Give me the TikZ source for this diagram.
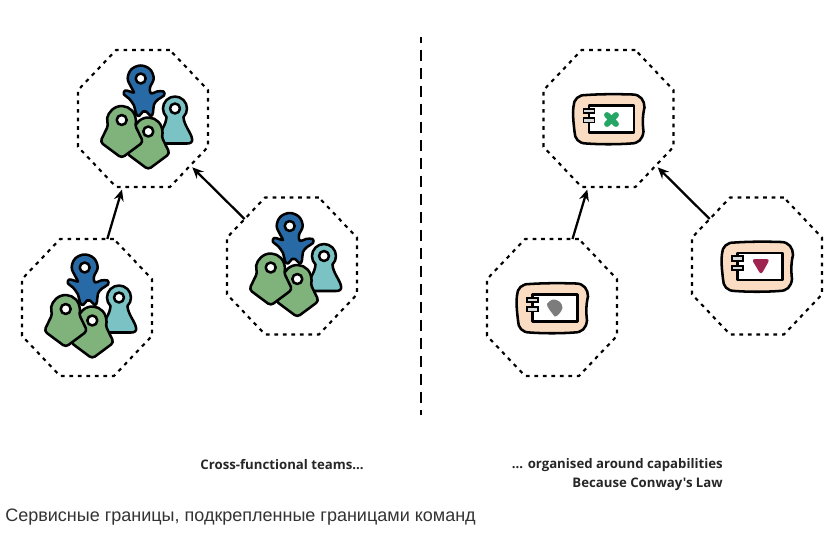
\documentclass[tikz,border=0pt]{standalone}
\usepackage{fontspec}
\newfontfamily\labelfont{Open Sans}
\newfontfamily\captionfont{Liberation Sans}
\usetikzlibrary{shapes.geometric, arrows.meta}
\definecolor{teamgreen}{RGB}{128,178,124}
\definecolor{teamblue}{RGB}{40,106,166}
\definecolor{teamteal}{RGB}{122,194,196}
\definecolor{peach}{RGB}{250,220,194}
\definecolor{markgreen}{RGB}{38,166,100}
\definecolor{markred}{RGB}{160,36,80}
\definecolor{markgrey}{RGB}{124,124,124}
\tikzset{
 boundary/.style={regular polygon, regular polygon sides=8,
  minimum size=105.5pt, inner sep=0pt, outer sep=0pt, draw, transform shape, yscale=1.054,
  line width=1.6pt, dash pattern=on 2.8pt off 3.6pt},
 link/.style={-{Stealth[length=8.5pt, width=7.5pt, inset=3pt]}, line width=1.7pt, shorten >=2pt},
 outline/.style={draw=black, line width=1.9pt, line join=round},
 label/.style={font=\labelfont\bfseries\fontsize{9.9}{12}\selectfont, text=black!85, inner sep=0pt},
 pawn/.pic={
  \draw[outline, rounded corners=2.5pt, fill=teamgreen] (-13.2,4.8) arc[start angle=160, end angle=380, radius=14]
   -- (21.5,22) -- (0,38) -- (-21.5,22) -- cycle;
  \draw[outline, fill=white] (0,0) circle (5);
 },
 people/.pic={
  % blue one at the back
  \draw[outline, fill=teamblue] plot[smooth cycle, tension=0.6] coordinates {(-2.3,-53) (7,-49.2) (10.7,-40) (7,-31)
   (8,-25) (14,-27) (20.5,-27) (21,-23) (15,-19) (11,-14) (10,-6) (8,-2.5) (3,-7) (0,-7) (-4,-2.5) (-7,-5) (-9,-13)
   (-14,-20) (-19,-24) (-18,-28) (-13,-27) (-9,-26) (-11.6,-31) (-15.3,-40) (-11.6,-49.2)};
  \draw[outline, fill=white] (-2.3,-40) circle (5);
  % teal one
  \draw[outline, fill=teamteal] (23.5,-1.5) arc[start angle=135, end angle=405, radius=12]
   .. controls (41,7) and (48,14) .. (49,20) .. controls (50,24) and (47,25) .. (44,25) -- (20,25)
   .. controls (16,25) and (14,23) .. (15,19) .. controls (17,13) and (23,7) .. cycle;
  \draw[outline, fill=white] (32,-10) circle (5);
  % green ones
  \pic at (5.3,13) {pawn};
  \pic at (-21.3,1.5) {pawn};
 },
 component/.pic={
  \draw[outline, fill=peach] (-22,-23.5) .. controls (-8,-24.5) and (10,-24.5) .. (24,-24)
   .. controls (32,-24) and (36,-18) .. (36,-11) .. controls (34,-3) and (34,5) .. (35,13)
   .. controls (34,21) and (30,25) .. (22,25) .. controls (8,26) and (-8,26) .. (-22,25)
   .. controls (-30,25) and (-34,20) .. (-34,13) .. controls (-35,4) and (-36,-4) .. (-35,-12)
   .. controls (-35,-19) and (-30,-24) .. cycle;
  \draw[outline, fill=white] (-19.5,-13) rectangle (25.5,14);
  \draw[line width=1.3pt, fill=black!15] (-25,-9.7) rectangle (-14,-5.3);
  \draw[line width=1.3pt, fill=black!15] (-25,-0.3) rectangle (-14,4);
 },
}
\begin{document}
\begin{tikzpicture}[x=0.75pt, y=-0.75pt]
    \useasboundingbox (0,0) rectangle (837,533);

    \node[boundary] (teamTop) at (143,118.5) {};
    \node[boundary] (teamLeft) at (87,307.5) {};
    \node[boundary] (teamRight) at (292,266) {};
    \node[boundary] (serviceTop) at (608.5,118.5) {};
    \node[boundary] (serviceLeft) at (552,307.5) {};
    \node[boundary] (serviceRight) at (757,266) {};

    \foreach \x/\y in {teamLeft/teamTop, teamRight/teamTop, serviceLeft/serviceTop, serviceRight/serviceTop} {
        \draw[link] (\x) -- (\y);
    }

    \foreach \x in {teamTop, teamLeft, teamRight} {
        \pic at (\x) {people};
    }
    \foreach \x in {serviceTop, serviceLeft, serviceRight} {
        \pic at (\x) {component};
    }

    % what sits inside each component
    \draw[markgreen, line width=4.4pt, line cap=round] (607,115) -- (616,124) (616,115) -- (607,124);
    \fill[markgrey] plot[smooth cycle] coordinates {(547,304) (553,299.5) (560,302) (562.5,308) (559,314) (555,316.5) (552,313) (549,309)};
    \fill[markred, rounded corners=2.5pt] (751.5,259) -- (770,259) -- (761,275) -- cycle;

    \coordinate (dividerTop) at (421,37);
    \coordinate (dividerBottom) at (421,415);
    \draw[line width=1.7pt, dash pattern=on 8.5pt off 5pt, dash phase=4pt] (dividerTop) -- (dividerBottom);

    \node[label, anchor=east] (teamsText) at (364,465) {Cross-functional teams...};
    \node[label, anchor=east] (capabilitiesText) at (723,465) {... organised around capabilities};
    \node[label, anchor=east] (conwayText) at (723,484) {Because Conway's Law};
    \node[anchor=west, inner sep=0pt, text=black!80, font=\captionfont\fontsize{13.5}{16}\selectfont] (captionText) at (5,517.5)
        {Сервисные границы, подкрепленные границами команд};
\end{tikzpicture}
\end{document}
